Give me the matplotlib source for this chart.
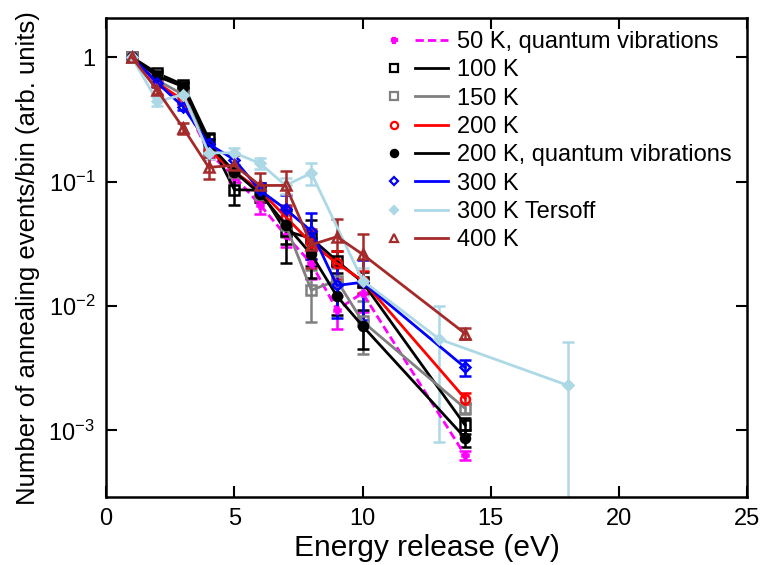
import matplotlib.pyplot as plt
from matplotlib.lines import Line2D
from matplotlib.legend_handler import HandlerTuple
from matplotlib.ticker import FixedLocator, FixedFormatter, NullLocator

plt.rcParams['font.family'] = ['Liberation Sans', 'DejaVu Sans']
plt.rcParams['mathtext.fontset'] = 'custom'
plt.rcParams['mathtext.rm'] = 'Liberation Sans'
plt.rcParams['mathtext.it'] = 'Liberation Sans'

# energy bins (eV)
e_main = [1, 2, 3, 4, 5, 6, 7, 8, 9, 10, 14]
e_tersoff = [1, 2, 3, 4, 5, 6, 7, 8, 10, 13, 18]

# normalised counts per bin
y_50qv = [1.0, 0.60, 0.45, 0.17, 0.11, 0.065, 0.037, 0.022, 0.0093, 0.0127, 0.00063]
y_100 = [1.0, 0.74, 0.60, 0.22, 0.086, 0.085, 0.040, 0.035, 0.023, 0.0155, 0.0011]
y_150 = [1.0, 0.65, 0.50, 0.18, 0.12, 0.080, 0.045, 0.0134, 0.016, 0.0075, 0.0015]
y_200 = [1.0, 0.62, 0.45, 0.18, 0.12, 0.085, 0.052, 0.032, 0.022, 0.016, 0.0018]
y_200qv = [1.0, 0.70, 0.58, 0.20, 0.12, 0.080, 0.045, 0.026, 0.012, 0.0069, 0.00087]
y_300 = [1.0, 0.62, 0.40, 0.20, 0.15, 0.085, 0.060, 0.040, 0.0146, 0.0155, 0.0032]
y_tersoff = [1.0, 0.44, 0.50, 0.17, 0.17, 0.14, 0.093, 0.117, 0.016, 0.0054, 0.0023]
y_400 = [1.0, 0.54, 0.27, 0.13, 0.135, 0.093, 0.093, 0.031, 0.036, 0.026, 0.006]

# relative errors
r_50qv = [0, .05, .06, .1, .1, .15, .2, .25, .3, .3, .08]
r_100 = [0, .05, .06, .12, .25, .15, .45, .4, .2, .2, .15]
r_150 = [0, .05, .05, .1, .12, .15, .2, .45, .25, .45, .1]
r_200 = [0, .05, .06, .1, .1, .15, .2, .25, .25, .2, .1]
r_200qv = [0, .05, .06, .1, .1, .15, .3, .35, .3, .35, .15]
r_300 = [0, .05, .06, .1, .1, .15, .3, .4, .45, .5, .15]
r_tersoff = [0, .08, .06, .1, .1, .1, .15, .2, .25, .85, 1.25]
r_400 = [0, .06, .1, .2, .2, .25, .3, .35, .4, .45, .1]

labels = ['50 K, quantum vibrations', '100 K', '150 K', '200 K',
          '200 K, quantum vibrations', '300 K', '300 K Tersoff', '400 K']

series = [
    (e_main, y_50qv, r_50qv, '#ff00ff', 'P', True, (0, (3, 1.5))),
    (e_main, y_100, r_100, 'black', 's', False, '-'),
    (e_main, y_150, r_150, '#808080', 's', False, '-'),
    (e_main, y_200, r_200, '#ff0000', 'o', False, '-'),
    (e_main, y_200qv, r_200qv, 'black', 'o', True, '-'),
    (e_main, y_300, r_300, '#0000ff', 'D', False, '-'),
    (e_tersoff, y_tersoff, r_tersoff, '#add8e6', 'D', True, '-'),
    (e_main, y_400, r_400, '#a52a2a', '^', False, '-'),
]

fig = plt.figure(figsize=(7.75, 5.65), dpi=100)
ax = fig.add_axes([0.137, 0.120, 0.827, 0.848])

handles = []
for (x, y, r, c, m, filled, ls), lab in zip(series, labels):
    err = [v * f for v, f in zip(y, r)]
    ms = {'P': 4.5, 'D': 5.5}.get(m, 6.5)
    ax.errorbar(x, y, yerr=err, color=c, ls=ls, lw=2, marker=m, ms=ms,
                mfc=c if filled else 'none', mec=c, mew=1.8,
                capsize=4, elinewidth=1.8, capthick=1.8)
    mk = Line2D([], [], ls='none', marker=m, ms=ms * 0.8, color=c,
                mfc=c if filled else 'none', mew=1.6)
    ln = Line2D([], [], ls=ls, lw=2, color=c)
    handles.append((mk, ln))

ax.set_yscale('log')
ax.set_xlim(0, 25)
ax.set_ylim(2.9e-4, 2.06)
ax.yaxis.set_major_locator(FixedLocator([1e-3, 1e-2, 1e-1, 1]))
ax.yaxis.set_major_formatter(FixedFormatter(['$10^{-3}$', '$10^{-2}$', '$10^{-1}$', '1']))
ax.yaxis.set_minor_locator(NullLocator())
ax.set_xticks([0, 5, 10, 15, 20, 25])

ax.tick_params(which='both', direction='in', top=True, right=True,
               length=8, width=1.5, labelsize=17, pad=8)
for s in ax.spines.values():
    s.set_linewidth(1.8)

ax.set_xlabel('Energy release (eV)', fontsize=21.5, labelpad=3)
ax.set_ylabel('Number of annealing events/bin (arb. units)', fontsize=18.5, labelpad=6)

leg = ax.legend(handles, labels, handler_map={tuple: HandlerTuple(ndivide=None, pad=0.2)},
                loc='upper right', frameon=False, fontsize=17, handlelength=3.0,
                handletextpad=0.4, labelspacing=0.27, borderaxespad=0.1,
                bbox_to_anchor=(0.995, 0.998))

fig.savefig('out.png', dpi=100)
